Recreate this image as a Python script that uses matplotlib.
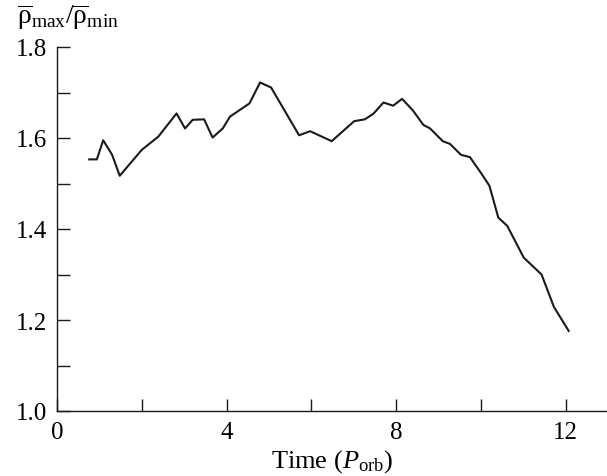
import matplotlib
matplotlib.use("Agg")
import matplotlib.pyplot as plt
from matplotlib.ticker import MultipleLocator

plt.rcParams['font.family'] = ['Liberation Serif', 'DejaVu Serif']
plt.rcParams['mathtext.fontset'] = 'custom'
plt.rcParams['mathtext.rm'] = 'Liberation Serif'
plt.rcParams['mathtext.it'] = 'Liberation Serif:italic'

time = [0.76, 0.94, 1.09, 1.30, 1.48, 2.00, 2.39, 2.82, 3.02, 3.20, 3.47, 3.67,
        3.91, 4.08, 4.54, 4.79, 5.05, 5.71, 5.97, 6.48, 7.01, 7.26, 7.46, 7.70,
        7.93, 8.14, 8.40, 8.64, 8.80, 9.10, 9.27, 9.53, 9.74, 9.98, 10.20, 10.41,
        10.62, 11.01, 11.43, 11.72, 12.07]
ratio = [1.553, 1.553, 1.595, 1.563, 1.517, 1.574, 1.603, 1.654, 1.621, 1.640,
         1.641, 1.601, 1.621, 1.647, 1.676, 1.722, 1.711, 1.606, 1.615, 1.593,
         1.637, 1.641, 1.653, 1.678, 1.671, 1.686, 1.660, 1.629, 1.621, 1.593,
         1.587, 1.563, 1.558, 1.526, 1.495, 1.425, 1.407, 1.337, 1.300, 1.229,
         1.176]
xticks = [0, 2, 4, 6, 8, 10, 12]
xticklabels = ['0', '', '4', '', '8', '', '12']
yticks = [1.0, 1.2, 1.4, 1.6, 1.8]
yticklabels = ['1.0', '1.2', '1.4', '1.6', '1.8']

fig = plt.figure(figsize=(6.07, 4.77), dpi=100)
ax = fig.add_axes([57/607, 1 - 412/477, (606 - 57)/607, (412 - 48)/477])
ax.plot(time, ratio, color='#1a1a1a', lw=1.5)
ax.set_xlim(0, 12.95)
ax.set_ylim(1.0, 1.8)
ax.set_xticks(xticks)
ax.set_xticklabels(xticklabels, fontfamily='Liberation Serif', fontsize=18)
ax.set_yticks(yticks)
ax.set_yticklabels(yticklabels, fontfamily='Liberation Serif', fontsize=18)
ax.yaxis.set_minor_locator(MultipleLocator(0.1))
for s in ['top', 'right']:
    ax.spines[s].set_visible(False)
for s in ['left', 'bottom']:
    ax.spines[s].set_linewidth(1.0)
    ax.spines[s].set_color('#1a1a1a')
ax.tick_params(axis='both', which='both', direction='in', length=9, width=1.0,
               color='#1a1a1a')
ax.tick_params(axis='x', pad=7)
ax.tick_params(axis='y', pad=7)
ax.set_xlabel(r'Time ($P_{\mathrm{orb}}$)', fontsize=19)
ax.xaxis.set_label_coords(0.5, -0.1)
fig.text(17/607, 1 - 2/477,
         r'$\overline{\mathrm{\rho}}_{\mathrm{max}}/\overline{\mathrm{\rho}}_{\mathrm{min}}$',
         fontsize=20, ha='left', va='top')
fig.savefig('out.png', dpi=100)
